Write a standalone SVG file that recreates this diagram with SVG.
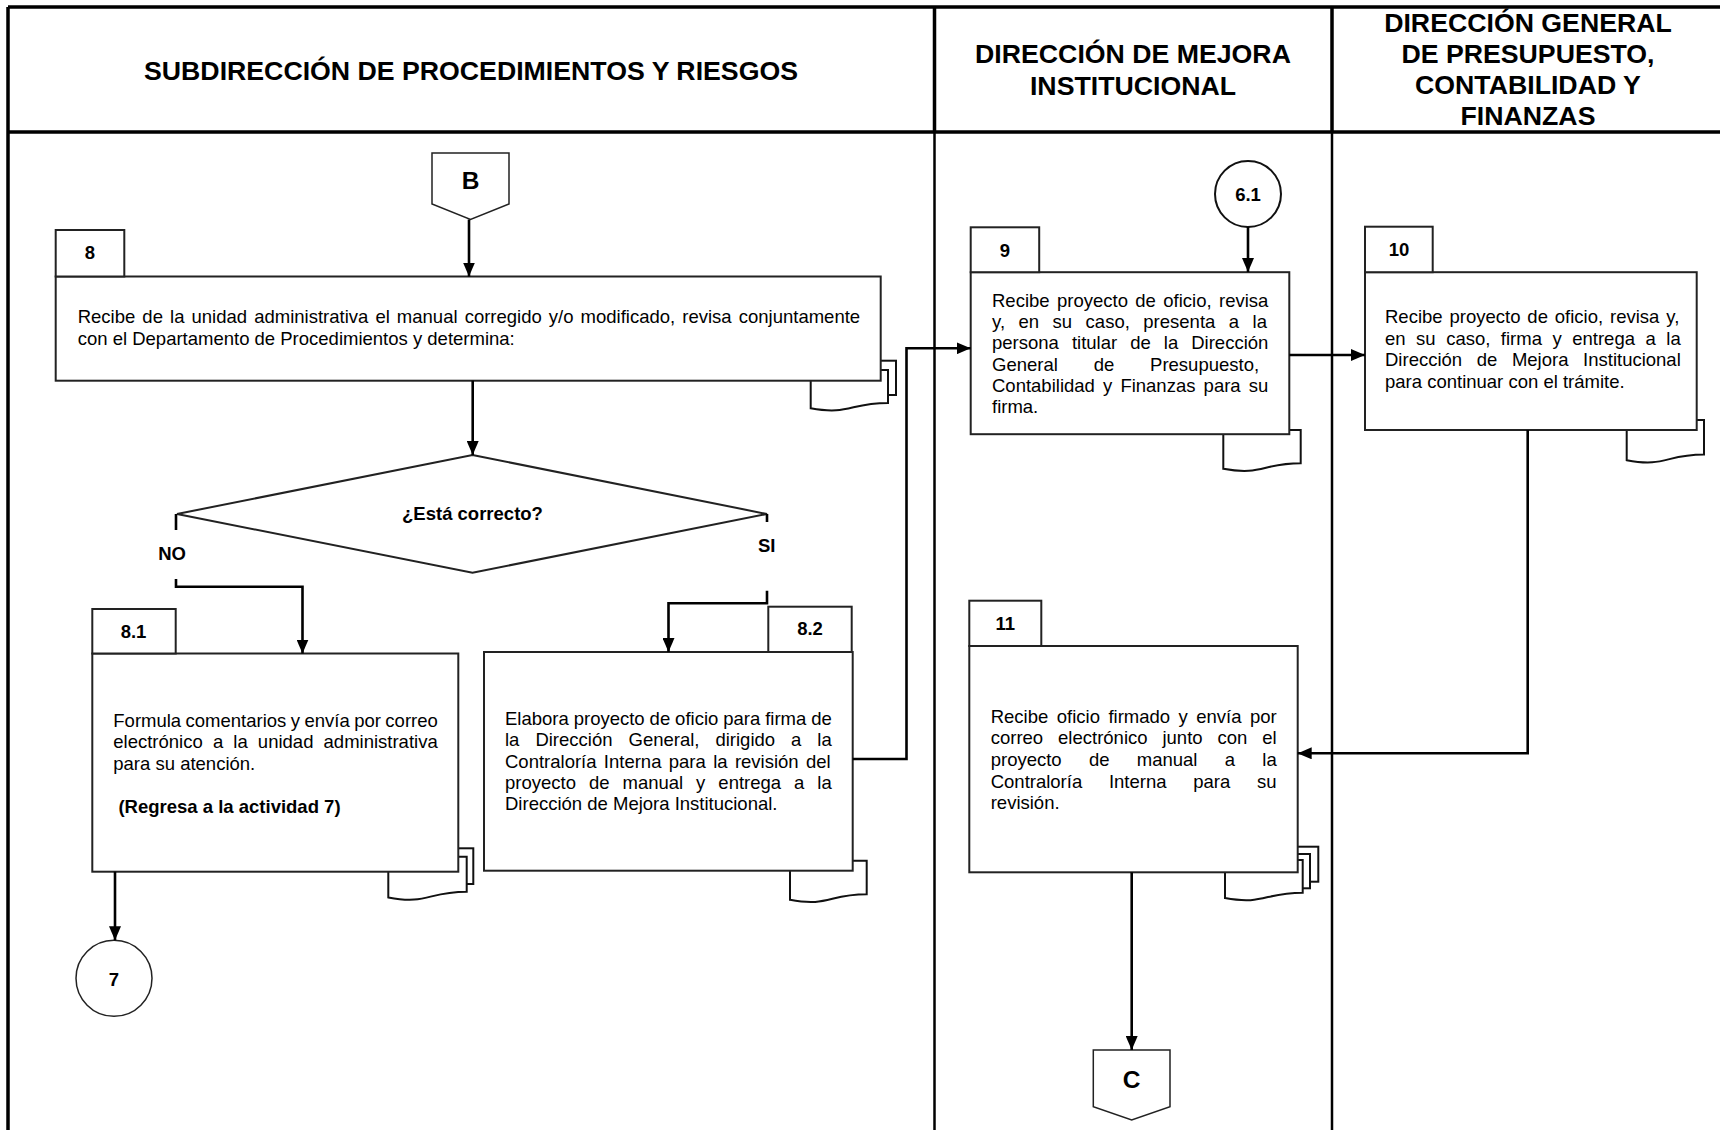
<svg xmlns="http://www.w3.org/2000/svg" width="1720" height="1130" viewBox="0 0 1720 1130">
<defs>
<style>
.box{fill:#fff;stroke:#222;stroke-width:2}
.thin{fill:#fff;stroke:#222;stroke-width:1.5}
.doc{fill:#fff;stroke:#111;stroke-width:2}
.t{font-family:'Liberation Sans',Arial,sans-serif;font-size:18.5px;fill:#000}
.b{font-weight:bold}
.c{text-anchor:middle}
.h{font-family:'Liberation Sans',Arial,sans-serif;font-size:26.7px;font-weight:bold;text-anchor:middle;fill:#000}
.conn{fill:none;stroke:#000;stroke-width:2.6}
.lane{fill:none;stroke:#000}
</style>
<marker id="ah" markerWidth="14" markerHeight="12" refX="14" refY="6" orient="auto" markerUnits="userSpaceOnUse">
<path d="M0,0 L14,6 L0,12 z" fill="#000"/>
</marker>
</defs>
<rect x="0" y="0" width="1720" height="1130" fill="#fff"/>

<g id="lanes">
<path class="lane" stroke-width="3.5" d="M8,7 H1720 M8,132 H1720 M8,7 V1130 M934.5,7 V132 M1332,7 V132"/>
<path class="lane" stroke-width="2.5" d="M934.5,132 V1130 M1332,132 V1130"/>
<text class="h" x="471" y="80">SUBDIRECCIÓN DE PROCEDIMIENTOS Y RIESGOS</text>
<text class="h" x="1133" y="63">DIRECCIÓN DE MEJORA</text>
<text class="h" x="1133" y="95">INSTITUCIONAL</text>
<text class="h" x="1528" y="32">DIRECCIÓN GENERAL</text>
<text class="h" x="1528" y="63">DE PRESUPUESTO,</text>
<text class="h" x="1528" y="94">CONTABILIDAD Y</text>
<text class="h" x="1528" y="124.5">FINANZAS</text>
</g>

<g id="nodeB">
<polygon class="thin" points="432,153 509,153 509,204 470.5,219.5 432,204"/>
<text class="t b c" x="470.5" y="189" style="font-size:24.5px">B</text>
</g>

<g id="node8">
<rect class="doc" x="818" y="360.7" width="78" height="34.3"/>
<path class="doc" d="M810.7,370 H888 V402.9 C849.4,402.9 849.4,415.4 810.7,408.3 Z"/>
<rect class="box" x="55.7" y="276.5" width="825" height="104.2"/>
<rect class="box" x="55.7" y="230" width="68.6" height="46.5"/>
<text class="t b c" x="90" y="259">8</text>
<text class="t" x="77.7" y="323.3" word-spacing="1.95">Recibe de la unidad administrativa el manual corregido y/o modificado, revisa conjuntamente</text>
<text class="t" x="77.7" y="345">con el Departamento de Procedimientos y determina:</text>
</g>

<g id="decision">
<polygon class="box" points="472.5,455 767,514 472.5,572.7 177,514"/>
<text class="t b c" x="472.5" y="520">¿Está correcto?</text>
<text class="t b c" x="172" y="560">NO</text>
<text class="t b c" x="766.7" y="551.7">SI</text>
</g>

<g id="node81">
<rect class="doc" x="395" y="848.3" width="78.3" height="35.7"/>
<path class="doc" d="M388.3,856.7 H466.7 V891.7 C427.5,891.7 427.5,905 388.3,897.4 Z"/>
<rect class="box" x="92.3" y="653.5" width="366" height="218.2"/>
<rect class="box" x="92.3" y="609" width="83.4" height="44.5"/>
<text class="t b c" x="133.5" y="637.5">8.1</text>
<text class="t" x="113.3" y="726.7" word-spacing="-0.7">Formula comentarios y envía por correo</text>
<text class="t" x="113.3" y="748.3" word-spacing="5.0">electrónico a la unidad administrativa</text>
<text class="t" x="113.3" y="770">para su atención.</text>
<text class="t b" x="113.3" y="813.3" xml:space="preserve"> (Regresa a la actividad 7)</text>
</g>

<g id="node7">
<circle class="thin" cx="114" cy="978.3" r="38"/>
<text class="t b c" x="114" y="985.5">7</text>
</g>

<g id="node82">
<path class="doc" d="M790,860.7 H866.7 V894.3 C828.4,894.3 828.4,907.1 790,899.8 Z"/>
<rect class="box" x="484" y="652" width="368.7" height="218.7"/>
<rect class="box" x="768.3" y="606.7" width="83.4" height="45.3"/>
<text class="t b c" x="810" y="635">8.2</text>
<text class="t" x="505" y="725" word-spacing="-0.2">Elabora proyecto de oficio para firma de</text>
<text class="t" x="505" y="746.3" word-spacing="10.85">la Dirección General, dirigido a la</text>
<text class="t" x="505" y="767.6" word-spacing="2.2">Contraloría Interna para la revisión del</text>
<text class="t" x="505" y="789" word-spacing="7.83">proyecto de manual y entrega a la</text>
<text class="t" x="505" y="810.3">Dirección de Mejora Institucional.</text>
</g>

<g id="node61">
<circle cx="1248" cy="194" r="33" fill="#fff" stroke="#111" stroke-width="2"/>
<text class="t b c" x="1248" y="200.5">6.1</text>
</g>

<g id="node9">
<path class="doc" d="M1223.3,430 H1300.7 V463.3 C1262,463.3 1262,475.9 1223.3,468.8 Z"/>
<rect class="box" x="970.7" y="272.2" width="318.6" height="162"/>
<rect class="box" x="970.7" y="227.3" width="68.5" height="44.9"/>
<text class="t b c" x="1005" y="256.7">9</text>
<text class="t" x="992" y="306.5" word-spacing="2.25">Recibe proyecto de oficio, revisa</text>
<text class="t" x="992" y="327.8" word-spacing="8.35">y, en su caso, presenta a la</text>
<text class="t" x="992" y="349.2" word-spacing="7.9">persona titular de la Dirección</text>
<text class="t" x="992" y="370.5" word-spacing="30.7">General de Presupuesto,</text>
<text class="t" x="992" y="391.9" word-spacing="3.0">Contabilidad y Finanzas para su</text>
<text class="t" x="992" y="413.2">firma.</text>
</g>

<g id="node10">
<path class="doc" d="M1626.7,420 H1704 V454.5 C1665.4,454.5 1665.4,467.6 1626.7,460.2 Z"/>
<rect class="box" x="1365" y="272.2" width="331.7" height="157.8"/>
<rect class="box" x="1365" y="226.7" width="67.7" height="45.5"/>
<text class="t b c" x="1399" y="255.7">10</text>
<text class="t" x="1385" y="323.3" word-spacing="1.76">Recibe proyecto de oficio, revisa y,</text>
<text class="t" x="1385" y="344.7" word-spacing="5.37">en su caso, firma y entrega a la</text>
<text class="t" x="1385" y="366.1" word-spacing="9.47">Dirección de Mejora Institucional</text>
<text class="t" x="1385" y="387.5">para continuar con el trámite.</text>
</g>

<g id="node11">
<rect class="doc" x="1241" y="846.7" width="77.3" height="35"/>
<rect class="doc" x="1233" y="854" width="77" height="34.3"/>
<path class="doc" d="M1225,860 H1302.7 V892.7 C1263.9,892.7 1263.9,905.2 1225,898.1 Z"/>
<rect class="box" x="969.3" y="646" width="328.4" height="226.3"/>
<rect class="box" x="969.3" y="600.7" width="72" height="45.3"/>
<text class="t b c" x="1005.3" y="630">11</text>
<text class="t" x="990.7" y="722.7" word-spacing="3.32">Recibe oficio firmado y envía por</text>
<text class="t" x="990.7" y="744.3" word-spacing="9.8">correo electrónico junto con el</text>
<text class="t" x="990.7" y="765.9" word-spacing="22.15">proyecto de manual a la</text>
<text class="t" x="990.7" y="787.5" word-spacing="21.6">Contraloría Interna para su</text>
<text class="t" x="990.7" y="809.1">revisión.</text>
</g>

<g id="nodeC">
<polygon class="thin" points="1093.3,1050 1170,1050 1170,1106.7 1131.7,1120 1093.3,1106.7"/>
<text class="t b c" x="1131.7" y="1087.5" style="font-size:24.5px">C</text>
</g>

<g id="connectors">
<path class="conn" d="M469,219.5 V276.5" marker-end="url(#ah)"/>
<path class="conn" d="M1248,227 V272" marker-end="url(#ah)"/>
<path class="conn" d="M472.7,380.7 V455" marker-end="url(#ah)"/>
<path class="conn" d="M176,514 V530"/>
<path class="conn" d="M176,579 V586.7 H302.5 V653.5" marker-end="url(#ah)"/>
<path class="conn" d="M767,514 V522"/>
<path class="conn" d="M767,590.7 V603.3 H668.5 V652" marker-end="url(#ah)"/>
<path class="conn" d="M115,871.7 V940.3" marker-end="url(#ah)"/>
<path class="conn" d="M852.7,759 H906.5 V348.3 H970.7" marker-end="url(#ah)"/>
<path class="conn" d="M1289.3,355 H1365" marker-end="url(#ah)"/>
<path class="conn" d="M1527.7,430 V753.3 H1297.7" marker-end="url(#ah)"/>
<path class="conn" d="M1131.7,872.3 V1050" marker-end="url(#ah)"/>
</g>
</svg>
